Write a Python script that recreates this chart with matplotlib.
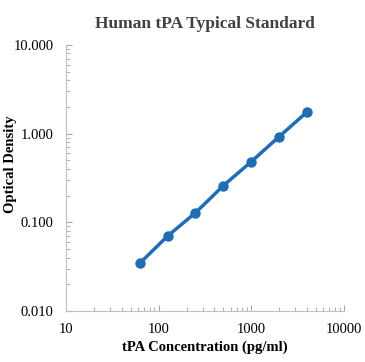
import matplotlib.pyplot as plt

# tPA standard curve
concentration = [62.5, 125, 250, 500, 1000, 2000, 4000]
optical_density = [0.0345, 0.070, 0.128, 0.259, 0.482, 0.923, 1.75]

plt.rcParams['font.family'] = ['Liberation Serif', 'DejaVu Serif']

fig = plt.figure(figsize=(3.65, 3.62), dpi=100)
ax = fig.add_axes([0.181, 0.141, 0.761, 0.735])

ax.plot(concentration, optical_density, color='#1f6db5', linewidth=2.5,
        marker='o', markersize=6.5, markerfacecolor='#1f6db5', markeredgecolor='#1f6db5')

ax.set_xscale('log')
ax.set_yscale('log')
ax.set_xlim(10, 10000)
ax.set_ylim(0.01, 10)
ax.set_xticks([10, 100, 1000, 10000])
ax.set_xticklabels(['10', '100', '1000', '10000'])
ax.set_yticks([0.01, 0.1, 1, 10])
ax.set_yticklabels(['0.010', '0.100', '1.000', '10.000'])

for side in ['top', 'right']:
    ax.spines[side].set_visible(False)
for side in ['left', 'bottom']:
    ax.spines[side].set_color('#bfbfbf')
    ax.spines[side].set_linewidth(0.8)

ax.tick_params(which='both', direction='in', color='#a6a6a6', labelsize=10.5, labelcolor='black')
ax.tick_params(which='major', length=4)
ax.tick_params(which='minor', length=3)
ax.tick_params(axis='y', pad=9)
ax.tick_params(axis='x', pad=9)

ax.set_title('Human tPA Typical Standard', fontsize=12.5, fontweight='bold', color='#404040', pad=12)
ax.set_xlabel('tPA Concentration (pg/ml)', fontsize=10.5, fontweight='bold', labelpad=3)
ax.set_ylabel('Optical Density', fontsize=10.5, fontweight='bold')
ax.yaxis.set_label_coords(-0.178, 0.553)

fig.savefig('out.png', dpi=100)
